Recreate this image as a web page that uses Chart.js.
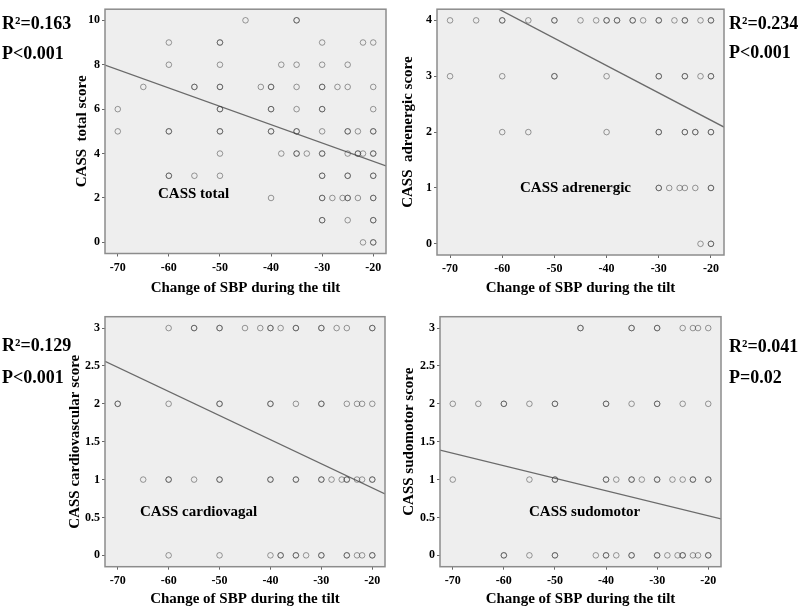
<!DOCTYPE html>
<html>
<head>
<meta charset="utf-8">
<script src="https://cdn.jsdelivr.net/npm/chart.js@4"></script>
<style>
  body { margin: 0; background: #fff; }
  #wrap { position: relative; width: 800px; height: 608px; overflow: hidden; }
  #wrap canvas { position: absolute; }
  .stat { position: absolute; font: bold 18px "Liberation Serif", serif; color: #000; white-space: nowrap; line-height: 1; transform: translateY(-50%); }
  .tag { position: absolute; font: bold 15px "Liberation Serif", serif; color: #000; white-space: nowrap; line-height: 1; transform: translateY(-50%); }
</style>
</head>
<body>
<div id="wrap">
  <canvas id="c_total" width="395" height="304" style="left:0;top:0"></canvas>
  <canvas id="c_adren" width="405" height="304" style="left:395px;top:0"></canvas>
  <canvas id="c_cardio" width="395" height="304" style="left:0;top:304px"></canvas>
  <canvas id="c_sudo" width="405" height="304" style="left:395px;top:304px"></canvas>

  <div class="stat" style="left:2px;top:23px">R²=0.163</div>
  <div class="stat" style="left:2px;top:53px">P&lt;0.001</div>
  <div class="stat" style="left:729px;top:23px">R²=0.234</div>
  <div class="stat" style="left:729px;top:52px">P&lt;0.001</div>
  <div class="stat" style="left:2px;top:345px">R²=0.129</div>
  <div class="stat" style="left:2px;top:377px">P&lt;0.001</div>
  <div class="stat" style="left:729px;top:346px">R²=0.041</div>
  <div class="stat" style="left:729px;top:377px">P=0.02</div>

  <div class="tag" style="left:158px;top:193px">CASS total</div>
  <div class="tag" style="left:520px;top:187px">CASS adrenergic</div>
  <div class="tag" style="left:140px;top:511px">CASS cardiovagal</div>
  <div class="tag" style="left:529px;top:511px">CASS sudomotor</div>
</div>
<script>
// x axis: change of SBP during tilt
const sbpTicks = [-70, -60, -50, -40, -30, -20];
const fitX = [-72.5, -17.5];

// CASS total: score levels and the SBP change of each case at that level
const totalLevels = [10, 9, 8, 7, 6, 5, 4, 3, 2, 1, 0];
const totalSbp = [
  [-45, -35, -35],
  [-60, -50, -50, -30, -22, -20],
  [-60, -50, -38, -35, -30, -25],
  [-65, -55, -55, -50, -50, -42, -40, -40, -35, -30, -30, -27, -25, -20],
  [-70, -50, -50, -40, -40, -35, -30, -30, -20],
  [-70, -60, -60, -50, -50, -40, -40, -35, -35, -30, -25, -25, -23, -20, -20],
  [-50, -38, -35, -35, -33, -30, -30, -25, -23, -23, -22, -20, -20],
  [-60, -60, -55, -50, -30, -30, -25, -25, -20, -20],
  [-40, -30, -30, -28, -26, -25, -25, -23, -20, -20],
  [-30, -30, -25, -20, -20],
  [-22, -20, -20]
];
const totalTicks = [0, 2, 4, 6, 8, 10];
const totalFit = [7.98, 3.44];

// CASS adrenergic
const adrenLevels = [4, 3, 2, 1, 0];
const adrenSbp = [
  [-70, -65, -60, -60, -55, -50, -50, -45, -42, -40, -40, -38, -38, -35, -35, -33, -30, -30, -27, -25, -25, -22, -20, -20],
  [-70, -60, -50, -50, -40, -30, -30, -25, -25, -22, -20, -20],
  [-60, -55, -40, -30, -30, -25, -25, -23, -23, -20, -20],
  [-30, -30, -28, -26, -25, -23, -20, -20],
  [-22, -20, -20]
];
const adrenTicks = [0, 1, 2, 3, 4];
const adrenFit = [4.78, 2.09];

// CASS cardiovagal
const cardioLevels = [3, 2, 1, 0];
const cardioSbp = [
  [-60, -55, -55, -50, -50, -45, -42, -40, -40, -38, -35, -35, -30, -30, -27, -25, -20, -20],
  [-70, -70, -60, -50, -50, -40, -40, -35, -30, -30, -25, -23, -22, -20],
  [-65, -60, -60, -55, -50, -50, -40, -40, -35, -35, -30, -30, -28, -26, -25, -25, -23, -22, -20, -20],
  [-60, -50, -40, -38, -38, -35, -35, -33, -30, -30, -25, -25, -23, -22, -20, -20]
];
const cardioTicks = [0, 0.5, 1, 1.5, 2, 2.5, 3];
const cardioFit = [2.56, 0.81];

// CASS sudomotor
const sudoLevels = [3, 2, 1, 0];
const sudoSbp = [
  [-45, -45, -35, -35, -30, -30, -25, -23, -22, -20],
  [-70, -65, -60, -60, -55, -50, -50, -40, -40, -35, -30, -30, -25, -20],
  [-70, -55, -50, -50, -40, -40, -38, -35, -35, -33, -30, -30, -27, -25, -23, -23, -20, -20],
  [-60, -60, -55, -50, -50, -42, -40, -40, -38, -35, -35, -30, -30, -28, -26, -25, -25, -23, -22, -20, -20]
];
const sudoTicks = [0, 0.5, 1, 1.5, 2, 2.5, 3];
const sudoFit = [1.39, 0.48];

const SERIF = '"Liberation Serif", "Times New Roman", serif';
const PLOT_BG = '#eeeeee';
const FRAME = '#8c8c8c';

// grey plot area and the box around it
const framePlugin = {
  id: 'frame',
  beforeDraw(chart) {
    const { ctx, chartArea: a } = chart;
    ctx.save();
    ctx.fillStyle = PLOT_BG;
    ctx.fillRect(a.left, a.top, a.width, a.height);
    ctx.restore();
  },
  afterDraw(chart) {
    const { ctx, chartArea: a } = chart;
    ctx.save();
    ctx.strokeStyle = FRAME;
    ctx.lineWidth = 1.5;
    ctx.strokeRect(a.left, a.top, a.width, a.height);
    ctx.restore();
  }
};

function to_points(levels, sbp) {
  const points = [];
  levels.forEach((level, i) => {
    for (const x of sbp[i]) points.push({ x: x, y: level });
  });
  return points;
}

function make_panel(id, levels, sbp, fit, yTicks, yRange, yTitle, box) {
  const fitLine = fitX.map((x, i) => ({ x: x, y: fit[i] }));
  const tickFont = { family: SERIF, size: 12, weight: 'bold' };
  const titleFont = { family: SERIF, size: 15, weight: 'bold' };
  new Chart(document.getElementById(id), {
    type: 'scatter',
    data: {
      datasets: [
        {
          data: to_points(levels, sbp),
          pointRadius: 2.8,
          pointBorderWidth: 1,
          pointBackgroundColor: 'rgba(0,0,0,0)',
          pointBorderColor: 'rgba(60,60,60,0.5)'
        },
        {
          data: fitLine,
          showLine: true,
          pointRadius: 0,
          borderColor: '#6a6a6a',
          borderWidth: 1.3
        }
      ]
    },
    options: {
      responsive: false,
      animation: false,
      layout: { padding: { top: box.top, right: box.right, left: 0, bottom: 0 } },
      plugins: { legend: { display: false }, tooltip: { enabled: false } },
      scales: {
        x: {
          type: 'linear',
          min: -72.5,
          max: -17.5,
          afterBuildTicks: (s) => { s.ticks = sbpTicks.map(v => ({ value: v })); },
          afterFit: (s) => { s.height = box.xHeight; },
          grid: { drawOnChartArea: false, tickLength: 3, color: '#666' },
          border: { display: false },
          ticks: { padding: 4, color: '#000', font: tickFont, callback: (v) => String(v) },
          title: {
            display: true,
            text: 'Change of SBP during the tilt',
            color: '#000',
            font: titleFont,
            padding: { top: 0, bottom: box.xTitlePad }
          }
        },
        y: {
          type: 'linear',
          min: yRange[0],
          max: yRange[1],
          afterBuildTicks: (s) => { s.ticks = yTicks.map(v => ({ value: v })); },
          afterFit: (s) => { s.width = box.yWidth; },
          grid: { drawOnChartArea: false, tickLength: 3, color: '#666' },
          border: { display: false },
          ticks: { padding: 2, color: '#000', font: tickFont, callback: (v) => String(v) },
          title: {
            display: true,
            text: yTitle,
            color: '#000',
            font: titleFont,
            padding: { top: box.yTitlePad, bottom: 0 }
          }
        }
      }
    },
    plugins: [framePlugin]
  });
}

make_panel('c_total', totalLevels, totalSbp, totalFit, totalTicks, [-0.5, 10.5], 'CASS  total score',
  { top: 4, right: 9, yWidth: 105, xHeight: 50.5, yTitlePad: 73, xTitlePad: 7 });
make_panel('c_adren', adrenLevels, adrenSbp, adrenFit, adrenTicks, [-0.2, 4.2], 'CASS  adrenergic score',
  { top: 4, right: 76, yWidth: 42, xHeight: 49, yTitlePad: 4, xTitlePad: 7 });
make_panel('c_cardio', cardioLevels, cardioSbp, cardioFit, cardioTicks, [-0.15, 3.15], 'CASS cardiovascular score',
  { top: 12.7, right: 10, yWidth: 105, xHeight: 41.3, yTitlePad: 66, xTitlePad: 0 });
make_panel('c_sudo', sudoLevels, sudoSbp, sudoFit, sudoTicks, [-0.15, 3.15], 'CASS sudomotor score',
  { top: 12.7, right: 79, yWidth: 45, xHeight: 41.3, yTitlePad: 5, xTitlePad: 0 });
</script>
</body>
</html>
